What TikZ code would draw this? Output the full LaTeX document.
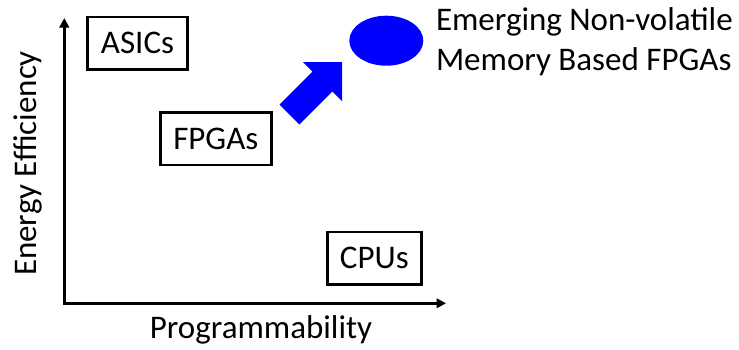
\documentclass[tikz,border=0pt]{standalone}
\usepackage{fontspec}
\setmainfont{Carlito}
\usetikzlibrary{arrows.meta,shapes.geometric}
\definecolor{pureblue}{RGB}{0,0,255}
\begin{document}
\begin{tikzpicture}[x=1bp,y=-1bp,
  every node/.style={font=\fontsize{33bp}{39.5bp}\selectfont, inner sep=0pt, outer sep=0pt},
  catbox/.style={draw, line width=2.8bp, minimum height=52.5bp},
  axis/.style={line width=2.8bp, {Triangle[length=9.5bp,width=9.5bp]}-{Triangle[length=9.5bp,width=9.5bp]}},
  blockarrow/.style={fill=pureblue, draw=none}]
\useasboundingbox (0,0) rectangle (739,349);

% axes
\coordinate (ytip) at (64.3,18);
\coordinate (origin) at (64.3,303.3);
\coordinate (xtip) at (446,303.3);
\draw[axis] (ytip) -- (origin) -- (xtip);
\node[rotate=90, anchor=base] (ylabel) at (36.7,163.5) {Energy Efficiency};
\node[anchor=base] (xlabel) at (261,338) {Programmability};

% device classes
\node[catbox, minimum width=100.5bp] (asics) at (137.5,43.3) {ASICs};
\node[catbox, minimum width=111.2bp] (fpgas) at (215.8,138.8) {FPGAs};
\node[catbox, minimum width=94.2bp] (cpus) at (374.3,258.3) {CPUs};

% emerging NVM-based FPGAs (base anchor sits on the last line)
\node[ellipse, fill=pureblue, minimum width=74bp, minimum height=50bp] (nvm) at (386.3,40.7) {};
\node[anchor=base west, align=left] (nvmlabel) at (436,70) {Emerging Non-volatile\\Memory Based FPGAs};

% block arrow from FPGAs towards the NVM ellipse
\fill[blockarrow] (279.6,104.6) -- (312.6,71.6) -- (303,62) -- (342,62)
  -- (342,101) -- (332.4,91.4) -- (299.4,124.4) -- cycle;
\end{tikzpicture}
\end{document}
